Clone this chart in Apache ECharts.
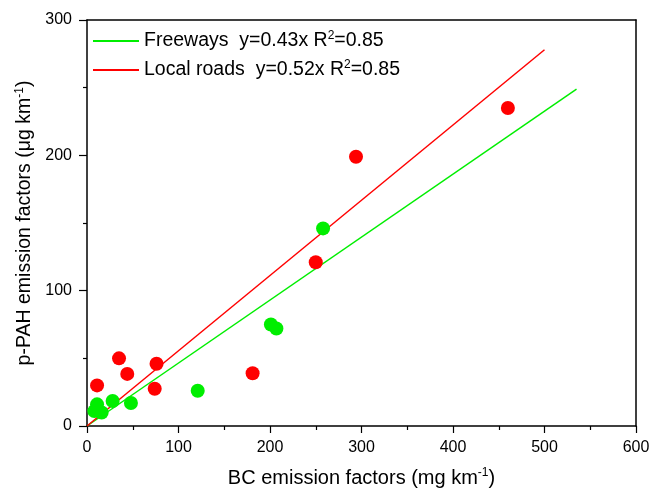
<!DOCTYPE html>
<html><head><meta charset="utf-8">
<script src="https://cdn.jsdelivr.net/npm/echarts@6/dist/echarts.min.js"></script>
<style>html,body{margin:0;padding:0;background:#fff}#c{width:649px;height:491px}</style>
</head><body><div id="c"></div>
<script>
const freewayPoints = [[8,11],[11,16],[16,10],[28,18.5],[48,17],[121,26],[201,75],[207,72],[258,146]];
const localPoints = [[11,30],[35,50],[44,38.5],[76,46],[74,27.5],[181,39],[250,121],[294,199],[460,235]];
const freewayLine = [[0,0],[535,249]];
const localLine = [[0,0],[500,278]];
const freewayLabel = ['Freeways  y=0.43x R', '2', '=0.85'];
const localLabel = ['Local roads  y=0.52x R', '2', '=0.85'];
const green = '#00EE00', red = '#FF0000';
const font = 'Liberation Sans, Arial, sans-serif';
const fwName = freewayLabel.join(''), lrName = localLabel.join('');
const labelMap = {}; labelMap[fwName] = freewayLabel; labelMap[lrName] = localLabel;
const supStyle = {fontSize:12,fontFamily:font,color:'#000',verticalAlign:'top',padding:[0,0,10,0]};
const chart = echarts.init(document.getElementById('c'));
chart.setOption({
  animation:false,
  grid:{left:87,right:13,top:20,bottom:65,outerBoundsMode:'none',containLabel:false},
  legend:{
    left:88, top:25, orient:'vertical', itemGap:8,
    itemWidth:46, itemHeight:2,
    formatter:function(n){const p=labelMap[n];return '{a|'+p[0]+'}{s|'+p[1]+'}{a|'+p[2]+'}';},
    textStyle:{fontFamily:font,fontSize:19.5,color:'#000',rich:{a:{fontFamily:font,fontSize:19.5,color:'#000'},s:supStyle}},
    data:[{name:fwName,icon:'rect'},{name:lrName,icon:'rect'}]
  },
  xAxis:[{
    type:'value',min:0,max:600,interval:100,
    axisLine:{show:true,onZero:false,lineStyle:{color:'#000',width:1.5}},
    axisTick:{show:true,length:7,lineStyle:{color:'#000',width:1.2}},
    minorTick:{show:true,splitNumber:2,length:4,lineStyle:{color:'#000',width:1.2}},
    splitLine:{show:false},
    axisLabel:{color:'#000',fontFamily:font,fontSize:16,margin:14},
    name:'BC emission factors (mg km{s|-1})',nameLocation:'middle',nameGap:41,
    nameTextStyle:{color:'#000',fontFamily:font,fontSize:20,rich:{s:supStyle}}
  },{
    type:'value',min:0,max:600,position:'top',
    axisLine:{show:true,onZero:false,lineStyle:{color:'#000',width:1.5}},
    axisTick:{show:false},axisLabel:{show:false},splitLine:{show:false}
  }],
  yAxis:[{
    type:'value',min:0,max:300,interval:100,
    axisLine:{show:true,onZero:false,lineStyle:{color:'#000',width:1.5}},
    axisTick:{show:true,length:8,lineStyle:{color:'#000',width:1.2}},
    minorTick:{show:true,splitNumber:2,length:4,lineStyle:{color:'#000',width:1.2}},
    splitLine:{show:false},
    axisLabel:{color:'#000',fontFamily:font,fontSize:16,margin:15},
    name:'p-PAH emission factors (μg km{s|-1})',nameLocation:'middle',nameGap:38,
    nameTextStyle:{color:'#000',fontFamily:font,fontSize:19.5,rich:{s:supStyle}}
  },{
    type:'value',min:0,max:300,position:'right',
    axisLine:{show:true,onZero:false,lineStyle:{color:'#000',width:1.5}},
    axisTick:{show:false},axisLabel:{show:false},splitLine:{show:false}
  }],
  series:[
    {name:fwName,type:'line',data:freewayLine,symbol:'none',lineStyle:{color:green,width:1.5},itemStyle:{color:green},z:2},
    {name:lrName,type:'line',data:localLine,symbol:'none',lineStyle:{color:red,width:1.5},itemStyle:{color:red},z:2},
    {name:'fw',type:'scatter',data:freewayPoints,symbolSize:14,itemStyle:{color:green,opacity:1},z:3},
    {name:'lr',type:'scatter',data:localPoints,symbolSize:14,itemStyle:{color:red,opacity:1},z:3}
  ]
});
</script></body></html>
